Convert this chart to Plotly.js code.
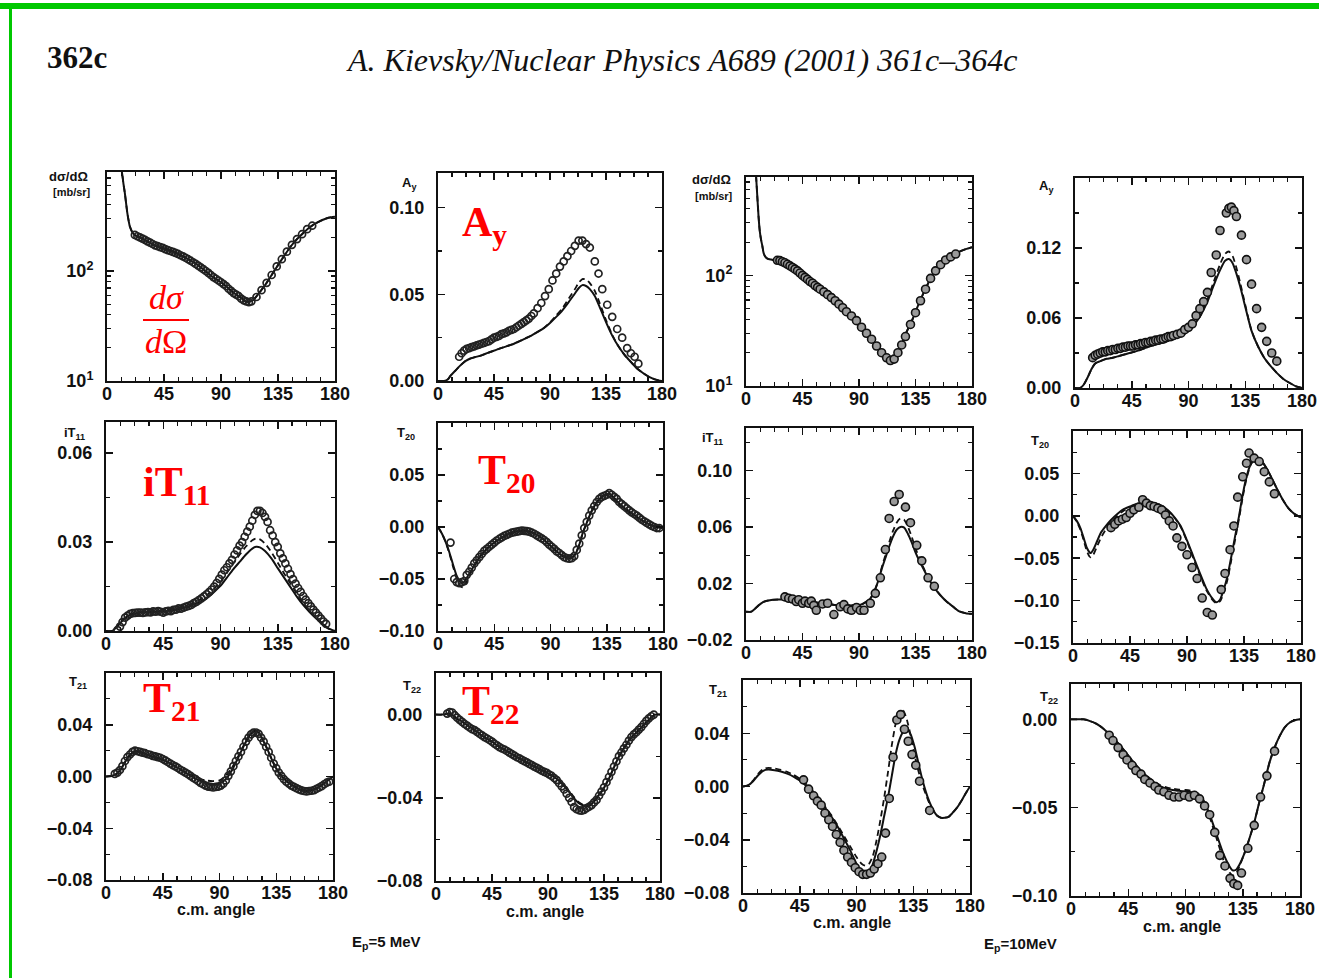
<!DOCTYPE html>
<html><head><meta charset="utf-8">
<script src="https://cdn.plot.ly/plotly-3.0.1.min.js"></script>
<style>html,body{margin:0;padding:0;background:#fff;}#chart{width:1319px;height:978px;}</style>
</head><body><div id="chart"></div>
<script>
// ---------------- DATA ----------------
const xTicks = [0, 45, 90, 135, 180];

// Panel 1: dσ/dΩ, Ep = 5 MeV
const p1CurveAngle = [11,12,13,14,15,16,17,18,20,22,25,30,35,40,45,50,55,60,65,70,75,80,85,90,95,100,105,110,115,120,125,130,135,140,145,150,155,160,165,170,175,180];
const p1Solid = [900,760,620,520,420,340,290,255,225,212,204,191,177,167,160,153,145,136,126,117,106,95,86,79,71,63,58,52.5,54,63,75,92,113,138,167,195,222,250,272,291,305,312];
const p1DataAngle = [22,24,26,28,30,32,34,36,38,40,42,44,46,48,50,52,54,56,58,60,62,64,66,68,70,72,74,76,78,80,82,84,86,88,90,92,94,96,98,100,102,104,106,108,110,112,114,118,122,126,130,134,138,142,146,150,154,158,162];
const p1Data = [213,207,202,197,192,186,181,176,171,168,165,162,158,155,152,149,146,143,139,136,132,128,124,120,116,112,108,104,100,96,92,88,85,82,79,76,73,69,66,63,61,59,56,54,53,52,53,58,67,78,92,110,128,150,173,195,216,240,258];
const p1YTicks = [10, 100];
const p1YTickText = ['10<sup>1</sup>', '10<sup>2</sup>'];

// Panel 2: Ay, 5 MeV
const p2CurveAngle = [0,5,8,10,14,18,22,26,30,35,40,45,50,55,60,65,70,75,80,85,90,95,100,105,110,113,116,119,122,126,130,135,140,145,150,155,160,165,170,175,180];
const p2Solid = [0,0,0.001,0.003,0.006,0.009,0.0115,0.013,0.0138,0.0148,0.0162,0.0175,0.0188,0.020,0.0212,0.0228,0.0245,0.0262,0.0283,0.0305,0.0335,0.037,0.0408,0.0455,0.0505,0.0535,0.0553,0.0548,0.053,0.049,0.0425,0.034,0.0262,0.020,0.015,0.011,0.0072,0.0045,0.0022,0.0008,0];
const p2Dashed = [0,0,0.001,0.003,0.006,0.009,0.0115,0.013,0.0138,0.0148,0.0162,0.0175,0.0188,0.020,0.0212,0.0228,0.0245,0.0262,0.0283,0.0305,0.0338,0.0378,0.042,0.0475,0.053,0.0566,0.0588,0.0585,0.0565,0.052,0.0448,0.0352,0.0266,0.020,0.015,0.011,0.0072,0.0045,0.0022,0.0008,0];
const p2DataAngle = [17,19,21,23,25,27,29,31,33,35,37,39,41,43,45,47,49,51,53,55,57,59,61,63,65,67,69,71,73,75,77,80,83,86,89,92,95,98,101,104,107,110,113,116,119,122,126,129,132,136,140,144,148,152,155,158,161];
const p2Data = [0.014,0.016,0.0175,0.0185,0.019,0.0195,0.020,0.0205,0.021,0.0215,0.022,0.0225,0.023,0.024,0.025,0.0255,0.026,0.027,0.0275,0.028,0.029,0.0295,0.030,0.031,0.032,0.033,0.034,0.035,0.036,0.0375,0.039,0.042,0.045,0.049,0.053,0.058,0.062,0.066,0.069,0.072,0.075,0.078,0.081,0.081,0.079,0.077,0.069,0.062,0.053,0.044,0.037,0.030,0.025,0.019,0.016,0.014,0.010];
const p2YTicks = [0, 0.05, 0.10];

// Panel 3: dσ/dΩ, 10 MeV
const p3CurveAngle = [8,9,10,11,12,13,14,15,17,20,25,30,35,40,45,50,55,60,65,70,75,80,85,90,95,100,105,110,113,116,119,122,125,128,132,136,140,144,148,152,156,160,165,170,175,180];
const p3Solid = [800,520,340,250,210,185,160,150,142,139,136,129,120,110,99,88,80,72,66,60,54,47.5,42,36.6,31,26.3,22.5,19.3,17.5,17.2,18.5,21.3,25.5,31,38.5,50,64,80,99,115,127,140,153,164,173,180];
const p3DataAngle = [25,27,29,31,33,35,37,39,41,43,45,47,49,51,53,55,57,59,62,65,68,71,74,77,80,84,88,92,96,100,104,108,112,115,118,121,124,127,131,135,139,143,147,151,155,159,163,167];
const p3Data = [137,136,133,130,126,122,118,114,110,105,100,96,92,88,85,81,78,75,71,67,63,59,55,51,47,43,39,34,30,26.5,23,20,18,17,17.5,20,23.5,28,36,46,59,75,94,110,125,138,147,156];
const p3YTicks = [10, 100];
const p3YTickText = ['10<sup>1</sup>', '10<sup>2</sup>'];

// Panel 4: Ay, 10 MeV
const p4CurveAngle = [0,4,7,10,13,16,20,25,30,35,40,45,50,55,60,65,70,75,80,85,90,95,100,105,110,115,119,122,125,128,131,134,137,140,145,150,155,160,165,170,175,180];
const p4Solid = [0,0,0.003,0.009,0.016,0.021,0.023,0.025,0.026,0.0275,0.029,0.0305,0.032,0.034,0.036,0.0375,0.039,0.041,0.043,0.045,0.049,0.055,0.063,0.074,0.088,0.101,0.109,0.1105,0.107,0.098,0.087,0.074,0.061,0.049,0.036,0.026,0.019,0.013,0.008,0.0045,0.0015,0];
const p4Dashed = [0,0,0.003,0.009,0.016,0.021,0.023,0.025,0.026,0.0275,0.029,0.0305,0.032,0.034,0.036,0.0375,0.039,0.041,0.043,0.045,0.049,0.055,0.063,0.076,0.091,0.106,0.115,0.117,0.113,0.103,0.090,0.076,0.062,0.049,0.036,0.026,0.019,0.013,0.008,0.0045,0.0015,0];
const p4DataAngle = [14,16,18,20,22,24,26,28,30,32,34,36,38,40,42,44,46,48,50,52,54,56,58,60,62,64,66,68,70,72,74,76,78,81,84,87,90,93,96,99,102,105,108,112,115,120,122,124,126,128,132,136,140,144,148,152,156,160];
const p4Data = [0.026,0.028,0.029,0.030,0.031,0.031,0.032,0.032,0.033,0.033,0.034,0.034,0.035,0.035,0.036,0.036,0.036,0.037,0.037,0.038,0.038,0.039,0.039,0.040,0.040,0.041,0.041,0.042,0.042,0.043,0.044,0.044,0.045,0.046,0.047,0.050,0.052,0.055,0.062,0.068,0.074,0.082,0.099,0.114,0.135,0.150,0.154,0.155,0.152,0.147,0.131,0.110,0.089,0.068,0.052,0.040,0.030,0.023];
const p4YTicks = [0, 0.06, 0.12];

// Panel 5: iT11, 5 MeV
const p5CurveAngle = [0,5,8,11,14,18,22,27,33,40,47,53,60,66,72,79,85,90,95,100,105,110,115,118,121,125,130,135,140,145,150,155,160,165,170,175,180];
const p5Solid = [0,0,0.0012,0.0026,0.0040,0.0052,0.0058,0.0062,0.0064,0.0065,0.0067,0.0071,0.0077,0.0084,0.0095,0.011,0.0132,0.0152,0.018,0.0208,0.0233,0.0258,0.0278,0.0284,0.0282,0.027,0.0245,0.0212,0.018,0.0148,0.0116,0.0088,0.0064,0.0043,0.0024,0.0008,0];
const p5Dashed = [0,0,0.0012,0.0027,0.0042,0.0054,0.0060,0.0064,0.0066,0.0068,0.0071,0.0075,0.0082,0.0090,0.0102,0.012,0.0144,0.0166,0.0196,0.0228,0.0257,0.0285,0.0306,0.0312,0.0309,0.0295,0.0266,0.0230,0.0194,0.0160,0.0126,0.0095,0.0068,0.0045,0.0025,0.0008,0];
const p5DataAngle = [9,11,13,15,17,19,21,23,25,27,29,31,33,35,37,39,41,43,45,47,49,51,53,55,57,59,61,63,65,67,69,71,73,75,77,79,81,83,85,87,89,91,93,95,97,99,101,103,105,107,109,111,113,115,117,119,121,123,125,127,129,131,133,135,137,139,141,143,145,147,149,151,153,155,157,159,161,163,165,167,169,171,173];
const p5Data = [0.0003,0.0015,0.0030,0.0045,0.0052,0.0058,0.0060,0.0061,0.0062,0.0062,0.0061,0.0063,0.0064,0.0063,0.0066,0.0065,0.0067,0.0065,0.0062,0.0066,0.0068,0.0067,0.0071,0.0072,0.0076,0.0075,0.0079,0.0082,0.0085,0.0088,0.0094,0.0098,0.0104,0.0110,0.0117,0.0124,0.0131,0.0140,0.0150,0.0162,0.0176,0.0190,0.0205,0.0215,0.0228,0.0240,0.0258,0.0272,0.0288,0.0300,0.0318,0.0335,0.0352,0.0372,0.0392,0.0405,0.0405,0.0398,0.0385,0.0368,0.0340,0.0322,0.0300,0.0284,0.0262,0.0245,0.0228,0.0210,0.0192,0.0175,0.0160,0.0145,0.0132,0.0118,0.0106,0.0094,0.0083,0.0072,0.0062,0.0052,0.0042,0.0032,0.0024];
const p5YTicks = [0, 0.03, 0.06];

// Panel 6: T20, 5 MeV
const p6CurveAngle = [0,3,6,9,12,15,18,20,22,25,28,32,36,40,45,50,55,60,65,70,75,80,85,90,95,100,104,107,110,113,116,119,122,126,130,134,137,140,145,150,155,160,165,170,175,180];
const p6Solid = [0,-0.006,-0.014,-0.024,-0.036,-0.047,-0.053,-0.0535,-0.051,-0.045,-0.039,-0.031,-0.025,-0.020,-0.015,-0.011,-0.0075,-0.005,-0.0038,-0.0036,-0.0052,-0.008,-0.0125,-0.018,-0.0235,-0.028,-0.030,-0.0295,-0.026,-0.017,-0.005,0.004,0.013,0.022,0.028,0.031,0.032,0.029,0.0225,0.0175,0.013,0.009,0.005,0.002,0,-0.001];
const p6Dashed = [0,-0.006,-0.014,-0.025,-0.038,-0.050,-0.057,-0.058,-0.055,-0.047,-0.040,-0.031,-0.025,-0.020,-0.015,-0.011,-0.0075,-0.005,-0.0038,-0.0036,-0.0052,-0.008,-0.0125,-0.018,-0.0235,-0.028,-0.030,-0.0295,-0.026,-0.017,-0.005,0.004,0.013,0.022,0.028,0.031,0.032,0.029,0.0225,0.0175,0.013,0.009,0.005,0.002,0,-0.001];
const p6DataAngle = [10,13,15,17,19,21,23,25,27,29,31,33,35,37,39,41,43,45,47,49,51,53,55,57,59,61,63,65,67,69,71,73,75,77,79,81,83,85,87,89,91,93,95,97,99,101,103,105,107,109,111,113,115,117,119,121,123,125,127,129,131,133,135,137,139,141,143,145,147,149,151,153,155,157,159,161,163,165,167,169,171,173,175,177];
const p6Data = [-0.015,-0.050,-0.053,-0.054,-0.053,-0.052,-0.046,-0.043,-0.039,-0.035,-0.032,-0.029,-0.026,-0.023,-0.021,-0.019,-0.017,-0.015,-0.013,-0.0115,-0.010,-0.0085,-0.0075,-0.0065,-0.0055,-0.005,-0.0045,-0.004,-0.0035,-0.0037,-0.004,-0.0045,-0.0055,-0.0065,-0.008,-0.0095,-0.011,-0.0125,-0.0145,-0.017,-0.019,-0.021,-0.0235,-0.025,-0.027,-0.029,-0.030,-0.0305,-0.030,-0.028,-0.022,-0.016,-0.008,-0.001,0.005,0.011,0.016,0.020,0.024,0.027,0.029,0.030,0.031,0.0325,0.031,0.029,0.027,0.024,0.022,0.020,0.018,0.016,0.014,0.0125,0.011,0.009,0.007,0.0055,0.004,0.0025,0.001,0.000,-0.001,-0.001];
const p6YTicks = [-0.10, -0.05, 0, 0.05];

// Panel 7: iT11, 10 MeV
const p7CurveAngle = [0,4,7,10,14,19,25,33,40,46,52,59,66,72,79,86,92,96,99,102,105,108,111,114,117,120,123,126,129,132,135,138,141,145,150,155,160,165,170,175,180];
const p7Solid = [0,0,0.002,0.0045,0.007,0.0082,0.0086,0.0086,0.0082,0.0077,0.0070,0.0062,0.0054,0.0047,0.0045,0.0046,0.0052,0.0072,0.0093,0.014,0.021,0.030,0.038,0.046,0.053,0.058,0.060,0.0595,0.055,0.049,0.042,0.036,0.031,0.024,0.017,0.0115,0.007,0.0035,0.0002,-0.001,-0.0015];
const p7Dashed = [0,0,0.002,0.0045,0.007,0.0082,0.0086,0.0086,0.0082,0.0077,0.0070,0.0062,0.0054,0.0047,0.0045,0.0046,0.0052,0.0072,0.0093,0.014,0.021,0.031,0.040,0.049,0.057,0.063,0.066,0.065,0.060,0.053,0.045,0.038,0.032,0.024,0.017,0.0115,0.007,0.0035,0.0002,-0.001,-0.0015];
const p7DataAngle = [31,34,37,40,42,45,47,50,52,54,56,61,65,70,75,78,81,84,88,91,94,99,103,107,111,114,118,122,127,131,136,140,145,150];
const p7Data = [0.0105,0.0095,0.0090,0.0072,0.0085,0.0060,0.0075,0.0060,0.0075,0.0045,0.0010,0.0055,0.0060,-0.0020,0.0035,0.0050,0.0020,0.0010,0.0030,0.0010,0.0010,0.0060,0.013,0.024,0.044,0.066,0.078,0.083,0.074,0.063,0.047,0.036,0.024,0.018];
const p7YTicks = [-0.02, 0.02, 0.06, 0.10];

// Panel 8: T20, 10 MeV
const p8CurveAngle = [0,3,6,9,11,13,14,16,19,22,26,30,35,40,45,50,55,60,65,70,75,80,85,90,95,100,105,110,113,116,119,122,125,128,131,134,137,140,143,146,149,152,155,158,162,166,170,175,180];
const p8Solid = [0,-0.006,-0.015,-0.029,-0.038,-0.043,-0.044,-0.040,-0.030,-0.020,-0.012,-0.005,0.002,0.0078,0.011,0.014,0.0158,0.016,0.0148,0.012,0.0065,-0.0015,-0.012,-0.029,-0.048,-0.067,-0.085,-0.0975,-0.102,-0.099,-0.087,-0.071,-0.048,-0.024,-0.001,0.025,0.046,0.060,0.066,0.067,0.064,0.058,0.050,0.041,0.029,0.018,0.009,0.002,-0.002];
const p8Dashed = [0,-0.007,-0.017,-0.032,-0.042,-0.048,-0.049,-0.046,-0.036,-0.026,-0.016,-0.008,0,0.006,0.0095,0.013,0.015,0.0155,0.0145,0.0115,0.006,-0.002,-0.013,-0.030,-0.050,-0.069,-0.087,-0.099,-0.103,-0.101,-0.091,-0.075,-0.052,-0.028,-0.004,0.022,0.044,0.059,0.067,0.068,0.065,0.058,0.050,0.041,0.029,0.018,0.009,0.002,-0.002];
const p8DataAngle = [30,33,36,39,42,45,48,52,55,58,61,64,67,70,73,76,79,82,86,90,94,98,102,106,110,117,120,124,127,130,134,137,139,143,147,151,155,159];
const p8Data = [-0.014,-0.010,-0.006,-0.004,-0.002,0.003,0.007,0.010,0.019,0.015,0.012,0.011,0.009,0.007,0.001,-0.006,-0.012,-0.026,-0.036,-0.046,-0.061,-0.074,-0.097,-0.114,-0.117,-0.087,-0.068,-0.040,-0.012,0.022,0.046,0.062,0.074,0.068,0.064,0.052,0.040,0.026];
const p8YTicks = [-0.15, -0.10, -0.05, 0, 0.05];

// Panel 9: T21, 5 MeV
const p9CurveAngle = [0,5,9,12,15,18,21,24,27,30,35,40,45,50,55,60,65,70,75,80,85,90,95,100,105,110,114,118,121,124,128,132,136,140,145,150,155,159,163,167,172,176,180];
const p9Solid = [0,0.0006,0.0025,0.006,0.011,0.0155,0.0185,0.0195,0.019,0.0178,0.016,0.0145,0.0128,0.0105,0.0078,0.0048,0.0018,-0.001,-0.0035,-0.0052,-0.006,-0.0055,-0.002,0.005,0.015,0.025,0.032,0.0352,0.034,0.029,0.021,0.012,0.0045,-0.0005,-0.005,-0.008,-0.0105,-0.0112,-0.0105,-0.009,-0.006,-0.003,0];
const p9Dashed = [0,0.0006,0.0025,0.006,0.011,0.0155,0.0185,0.0195,0.019,0.0178,0.016,0.0145,0.0128,0.0105,0.0078,0.005,0.0025,0.0,-0.002,-0.0032,-0.0035,-0.003,0.0005,0.007,0.016,0.0255,0.032,0.0352,0.034,0.029,0.021,0.012,0.0045,-0.0005,-0.005,-0.008,-0.0105,-0.0112,-0.0105,-0.009,-0.006,-0.003,0];
const p9DataAngle = [7,9,11,13,15,17,19,21,23,25,27,29,31,33,35,37,39,41,43,45,47,49,51,53,55,57,59,61,63,65,67,69,71,73,75,77,79,81,83,85,87,89,91,93,95,97,99,101,103,105,107,109,111,113,115,117,119,121,123,125,127,129,131,133,135,137,139,141,143,145,147,149,151,153,155,157,159,161,163,165,167,169,171,173,175,177];
const p9Data = [0.002,0.003,0.005,0.008,0.012,0.015,0.017,0.019,0.020,0.0195,0.019,0.0185,0.018,0.0172,0.0168,0.016,0.0155,0.015,0.0145,0.0135,0.0125,0.0112,0.010,0.0088,0.0078,0.0066,0.0052,0.0042,0.003,0.0018,0.0005,-0.001,-0.002,-0.0035,-0.005,-0.006,-0.007,-0.0078,-0.008,-0.0085,-0.008,-0.0078,-0.007,-0.0055,-0.003,0.0005,0.004,0.008,0.012,0.0155,0.019,0.023,0.027,0.030,0.0325,0.034,0.034,0.033,0.030,0.027,0.023,0.019,0.0145,0.010,0.0065,0.003,0.0005,-0.002,-0.004,-0.0055,-0.007,-0.008,-0.009,-0.010,-0.0108,-0.0112,-0.0115,-0.0112,-0.011,-0.0105,-0.0095,-0.0085,-0.0075,-0.006,-0.0048,-0.004];
const p9YTicks = [-0.08, -0.04, 0, 0.04];

// Panel 10: T22, 5 MeV
const p10CurveAngle = [0,5,8,11,14,17,20,25,30,35,40,45,50,55,60,65,70,75,80,85,90,95,100,105,110,114,118,122,125,128,131,134,137,140,144,148,152,156,160,164,168,172,176,180];
const p10Solid = [0,0,0.0003,0.0005,-0.0005,-0.002,-0.003,-0.005,-0.007,-0.0093,-0.0113,-0.013,-0.0152,-0.0168,-0.0187,-0.0204,-0.022,-0.0237,-0.0252,-0.0266,-0.0282,-0.030,-0.0325,-0.0357,-0.0395,-0.0422,-0.0436,-0.0441,-0.043,-0.041,-0.0385,-0.0362,-0.033,-0.0295,-0.024,-0.019,-0.0153,-0.0117,-0.0092,-0.0068,-0.0043,-0.0019,0,0];
const p10Dashed = [0,0,0.0003,0.0005,-0.0005,-0.002,-0.003,-0.005,-0.007,-0.0093,-0.0113,-0.013,-0.0152,-0.0168,-0.0187,-0.0204,-0.022,-0.0237,-0.0252,-0.0266,-0.0281,-0.0298,-0.0321,-0.0352,-0.039,-0.0418,-0.0433,-0.0439,-0.043,-0.041,-0.0385,-0.0362,-0.033,-0.0295,-0.024,-0.019,-0.0153,-0.0117,-0.0092,-0.0068,-0.0043,-0.0019,0,0];
const p10DataAngle = [9,11,13,15,17,19,21,23,25,27,29,31,33,35,37,39,41,43,45,47,49,51,53,55,57,59,61,63,65,67,69,71,73,75,77,79,81,83,85,87,89,91,93,95,97,99,101,103,105,107,109,111,113,115,117,119,121,123,125,127,129,131,133,135,137,139,141,143,145,147,149,151,153,155,157,159,161,163,165,167,169,171,173,175];
const p10Data = [0.0005,0.0012,0.0010,-0.0003,-0.0015,-0.0025,-0.0035,-0.0045,-0.0053,-0.0062,-0.007,-0.0075,-0.0083,-0.0092,-0.010,-0.0108,-0.0115,-0.0122,-0.013,-0.014,-0.0148,-0.0156,-0.0163,-0.0168,-0.0175,-0.0183,-0.019,-0.0197,-0.0205,-0.021,-0.0218,-0.0224,-0.023,-0.0237,-0.0243,-0.025,-0.0256,-0.0262,-0.027,-0.0275,-0.028,-0.0288,-0.0295,-0.0305,-0.0315,-0.033,-0.0345,-0.036,-0.038,-0.040,-0.042,-0.0445,-0.0455,-0.046,-0.0462,-0.0458,-0.045,-0.0443,-0.0435,-0.0422,-0.041,-0.039,-0.037,-0.035,-0.0325,-0.030,-0.0275,-0.025,-0.0225,-0.020,-0.0182,-0.0162,-0.0145,-0.0125,-0.0108,-0.0095,-0.0085,-0.0072,-0.006,-0.0045,-0.003,-0.0018,-0.0008,0];
const p10YTicks = [-0.08, -0.04, 0];

// Panel 11: T21, 10 MeV
const p11CurveAngle = [0,4,8,12,16,20,25,30,35,40,45,50,55,60,65,70,75,80,85,90,94,97,100,103,106,109,112,115,118,121,124,127,130,133,136,139,142,145,148,151,154,157,160,163,166,170,174,177,180];
const p11Solid = [0,0.0008,0.004,0.0085,0.0118,0.0127,0.0122,0.0112,0.0097,0.0075,0.0045,0.0005,-0.0045,-0.0095,-0.016,-0.0225,-0.030,-0.039,-0.048,-0.058,-0.065,-0.067,-0.065,-0.058,-0.048,-0.036,-0.022,-0.008,0.008,0.024,0.035,0.041,0.043,0.039,0.030,0.018,0.006,-0.004,-0.012,-0.018,-0.022,-0.0235,-0.0235,-0.0228,-0.020,-0.0155,-0.0095,-0.0045,0];
const p11Dashed = [0,0.001,0.0045,0.0095,0.0132,0.014,0.0135,0.0125,0.011,0.0088,0.0058,0.002,-0.003,-0.0085,-0.015,-0.0215,-0.029,-0.037,-0.045,-0.053,-0.058,-0.0595,-0.058,-0.052,-0.040,-0.025,-0.008,0.011,0.031,0.047,0.056,0.057,0.050,0.038,0.024,0.012,0.002,-0.006,-0.013,-0.018,-0.022,-0.0235,-0.0235,-0.0228,-0.020,-0.0155,-0.0095,-0.0045,0];
const p11DataAngle = [48,52,56,59,62,65,68,71,74,77,80,83,86,89,92,95,98,101,104,107,110,113,116,119,122,125,128,131,134,137,140,148];
const p11Data = [0.005,-0.002,-0.007,-0.011,-0.014,-0.020,-0.025,-0.030,-0.036,-0.042,-0.048,-0.053,-0.057,-0.061,-0.064,-0.066,-0.066,-0.065,-0.062,-0.058,-0.053,-0.035,-0.009,0.022,0.050,0.054,0.043,0.034,0.024,0.016,0.004,-0.018];
const p11YTicks = [-0.08, -0.04, 0, 0.04];

// Panel 12: T22, 10 MeV
const p12CurveAngle = [0,5,10,15,20,25,30,35,40,45,50,55,60,65,70,75,80,85,90,95,100,104,108,112,116,120,124,127,130,133,136,140,144,148,152,156,160,164,168,172,176,180];
const p12Solid = [0,0,0,-0.001,-0.0025,-0.005,-0.0083,-0.012,-0.016,-0.0205,-0.025,-0.029,-0.0325,-0.0355,-0.0378,-0.0392,-0.040,-0.0405,-0.041,-0.0412,-0.0425,-0.0455,-0.052,-0.060,-0.0685,-0.0765,-0.0825,-0.0855,-0.085,-0.0815,-0.0765,-0.068,-0.0585,-0.047,-0.036,-0.0245,-0.016,-0.0095,-0.0045,-0.0018,-0.0005,0];
const p12Dashed = [0,0,0,-0.001,-0.0025,-0.005,-0.0083,-0.012,-0.016,-0.0205,-0.025,-0.029,-0.0322,-0.035,-0.0372,-0.0385,-0.0393,-0.0398,-0.040,-0.0405,-0.042,-0.046,-0.053,-0.062,-0.071,-0.080,-0.086,-0.0885,-0.087,-0.082,-0.0765,-0.068,-0.0585,-0.047,-0.036,-0.0245,-0.016,-0.0095,-0.0045,-0.0018,-0.0005,0];
const p12DataAngle = [30,33,37,41,44,48,51,55,58,62,66,69,73,77,81,85,89,93,97,101,105,109,113,117,121,125,128,131,134,139,144,149,154,160];
const p12Data = [-0.009,-0.012,-0.016,-0.020,-0.023,-0.026,-0.029,-0.031,-0.034,-0.036,-0.038,-0.040,-0.041,-0.043,-0.044,-0.044,-0.043,-0.044,-0.043,-0.045,-0.049,-0.054,-0.064,-0.077,-0.083,-0.090,-0.093,-0.094,-0.087,-0.073,-0.060,-0.044,-0.032,-0.018];
const p12YTicks = [-0.10, -0.05, 0];

const axisLabels = ['dσ/dΩ', 'A<sub>y</sub>', 'dσ/dΩ', 'A<sub>y</sub>', 'iT<sub>11</sub>', 'T<sub>20</sub>', 'iT<sub>11</sub>', 'T<sub>20</sub>', 'T<sub>21</sub>', 'T<sub>22</sub>', 'T<sub>21</sub>', 'T<sub>22</sub>'];

// ---------------- LAYOUT / DRAWING ----------------
const W = 1319, H = 978;
const INK = '#111';
const panels = [
  {box:[107,335,172,381], type:'log', range:[1,2.9], ticks:p1YTicks, text:p1YTickText, minor:'D1', ca:p1CurveAngle, s:p1Solid, d:p1Solid, da:p1DataAngle, dv:p1Data, big:false},
  {box:[438,662,173,381], range:[0,0.12], ticks:p2YTicks, minor:0.025, ca:p2CurveAngle, s:p2Solid, d:p2Dashed, da:p2DataAngle, dv:p2Data, big:false},
  {box:[746,972,177,386], type:'log', range:[1,2.89], ticks:p3YTicks, text:p3YTickText, minor:'D1', ca:p3CurveAngle, s:p3Solid, d:p3Solid, da:p3DataAngle, dv:p3Data, big:true},
  {box:[1075,1302,178,388], range:[0,0.18], ticks:p4YTicks, minor:0.03, ca:p4CurveAngle, s:p4Solid, d:p4Dashed, da:p4DataAngle, dv:p4Data, big:true},
  {box:[106,335,422,631], range:[0,0.0705], ticks:p5YTicks, minor:0.015, ca:p5CurveAngle, s:p5Solid, d:p5Dashed, da:p5DataAngle, dv:p5Data, big:false},
  {box:[438,663,423,631], range:[-0.1,0.1], ticks:p6YTicks, minor:0.025, ca:p6CurveAngle, s:p6Solid, d:p6Dashed, da:p6DataAngle, dv:p6Data, big:false},
  {box:[746,972,428,640], range:[-0.02,0.13], ticks:p7YTicks, minor:0.02, m0:-0.02, ca:p7CurveAngle, s:p7Solid, d:p7Dashed, da:p7DataAngle, dv:p7Data, big:true},
  {box:[1073,1301,431,643], range:[-0.15,0.1], ticks:p8YTicks, minor:0.025, ca:p8CurveAngle, s:p8Solid, d:p8Dashed, da:p8DataAngle, dv:p8Data, big:true},
  {box:[106,333,673,880], range:[-0.08,0.08], ticks:p9YTicks, minor:0.02, ca:p9CurveAngle, s:p9Solid, d:p9Dashed, da:p9DataAngle, dv:p9Data, big:false},
  {box:[436,660,673,881], range:[-0.08,0.02], ticks:p10YTicks, minor:0.02, ca:p10CurveAngle, s:p10Solid, d:p10Dashed, da:p10DataAngle, dv:p10Data, big:false},
  {box:[743,970,680,893], range:[-0.08,0.08], ticks:p11YTicks, minor:0.02, ca:p11CurveAngle, s:p11Solid, d:p11Dashed, da:p11DataAngle, dv:p11Data, big:true},
  {box:[1071,1300,684,896], range:[-0.10,0.02], ticks:p12YTicks, minor:0.025, ca:p12CurveAngle, s:p12Solid, d:p12Dashed, da:p12DataAngle, dv:p12Data, big:true}
];
const labelPos = [[68,176],[409,183],[711,179],[1046,187],[74,434],[406,433],[712,438],[1040,441],[78,682],[412,686],[718,690],[1049,697]];

const tickFont = {family:'Liberation Sans, Arial, sans-serif', size:18, weight:'bold', color:INK};
const traces = [];
const layout = {
  width: W, height: H, autosize:false,
  margin:{l:0,r:0,t:0,b:0,pad:0},
  paper_bgcolor:'#ffffff', plot_bgcolor:'rgba(0,0,0,0)',
  showlegend:false, annotations:[], shapes:[]
};
const px = v => v / W;
const py = v => 1 - v / H;

panels.forEach((p, i) => {
  const n = i + 1, sfx = n === 1 ? '' : String(n);
  const xa = 'x' + sfx, ya = 'y' + sfx;
  layout['xaxis' + sfx] = {
    domain:[px(p.box[0]), px(p.box[1])], anchor: ya, range:[0,180],
    tickmode:'array', tickvals:xTicks, ticks:'inside', ticklen:7, tickwidth:1.5, tickcolor:INK,
    mirror:'allticks', showline:true, linecolor:INK, linewidth:2, showgrid:false, zeroline:false,
    tickfont:tickFont, ticklabelstandoff:-5, fixedrange:true,
    minor:{tickmode:'linear', tick0:0, dtick:11.25, ticks:'inside', ticklen:4, tickwidth:1.2, tickcolor:INK, showgrid:false}
  };
  const yax = {
    domain:[py(p.box[3]), py(p.box[2])], anchor: xa, range:p.range,
    tickmode:'array', tickvals:p.ticks, ticks:'inside', ticklen:7, tickwidth:1.5, tickcolor:INK,
    mirror:'allticks', showline:true, linecolor:INK, linewidth:2, showgrid:false, zeroline:false,
    tickfont:tickFont, ticklabelstandoff:8, fixedrange:true,
    minor:{tickmode:'linear', tick0:(p.m0 !== undefined ? p.m0 : 0), dtick:p.minor, ticks:'inside', ticklen:4, tickwidth:1.2, tickcolor:INK, showgrid:false}
  };
  if (p.type === 'log') { yax.type = 'log'; yax.ticktext = p.text; yax.minor.tick0 = undefined; }
  else { yax.tickformat = '.2f'; }
  layout['yaxis' + sfx] = yax;

  traces.push({x:p.ca, y:p.d, xaxis:xa, yaxis:ya, type:'scatter', mode:'lines', line:{color:INK, width:1.8, dash:'6px,4px', shape:'spline', smoothing:0.6}, hoverinfo:'skip'});
  traces.push({x:p.ca, y:p.s, xaxis:xa, yaxis:ya, type:'scatter', mode:'lines', line:{color:INK, width:2, shape:'spline', smoothing:0.6}, hoverinfo:'skip'});
  traces.push({x:p.da, y:p.dv, xaxis:xa, yaxis:ya, type:'scatter', mode:'markers', cliponaxis:true,
    marker: p.big ? {symbol:'circle', size:8, color:'#9a9a9a', line:{color:INK, width:1.6}}
                  : {symbol:'circle-open', size:7, color:'#222', line:{color:'#222', width:1.7}}, hoverinfo:'skip'});

  layout.annotations.push({text:axisLabels[i], x:px(labelPos[i][0]), y:py(labelPos[i][1]), xref:'paper', yref:'paper', showarrow:false, xanchor:'center', yanchor:'middle', font:{family:'Liberation Sans, Arial, sans-serif', size:13, weight:'bold', color:INK}});
});

const ann = (text, x, y, font, xa='center', yan='middle') => layout.annotations.push({text, x:px(x), y:py(y), xref:'paper', yref:'paper', showarrow:false, xanchor:xa, yanchor:yan, font});
const small = {family:'Liberation Sans, Arial, sans-serif', size:11, weight:'bold', color:INK};
ann('[mb/sr]', 72, 192, small);
ann('[mb/sr]', 714, 196, small);
const axTitle = {family:'Liberation Sans, Arial, sans-serif', size:16, weight:'bold', color:INK};
ann('c.m. angle', 216, 909, axTitle);
ann('c.m. angle', 545, 911, axTitle);
ann('c.m. angle', 852, 922, axTitle);
ann('c.m. angle', 1182, 926, axTitle);
const epFont = {family:'Liberation Sans, Arial, sans-serif', size:15, weight:'bold', color:INK};
ann('E<sub>p</sub>=5 MeV', 386, 942, epFont);
ann('E<sub>p</sub>=10MeV', 1020, 944, epFont);

// header
ann('<b>362c</b>', 45, 57, {family:'Liberation Serif, Times New Roman, serif', size:31, color:INK}, 'left');
ann('<i>A. Kievsky/Nuclear Physics A689 (2001) 361c–364c</i>', 681, 60, {family:'Liberation Serif, Times New Roman, serif', size:32, color:INK});

// red overlay labels
const red = {family:'Liberation Serif, Times New Roman, serif', size:42, weight:'bold', color:'#ff0000'};
ann('A<sub>y</sub>', 460, 225, red, 'left');
ann('iT<sub>11</sub>', 141, 485, red, 'left');
ann('T<sub>20</sub>', 476, 473, red, 'left');
ann('T<sub>21</sub>', 141, 701, red, 'left');
ann('T<sub>22</sub>', 460, 704, red, 'left');
const redIt = {family:'Liberation Serif, Times New Roman, serif', size:34, color:'#ff0000'};
ann('<i>dσ</i>', 166, 297, redIt);
ann('<i>d</i>Ω', 166, 341, redIt);
layout.shapes.push({type:'line', xref:'paper', yref:'paper', x0:px(143), x1:px(189), y0:py(320), y1:py(320), line:{color:'#ff0000', width:2}});

// green page border
layout.shapes.push({type:'rect', xref:'paper', yref:'paper', x0:0, x1:1, y0:py(9), y1:py(3), fillcolor:'#00c800', line:{width:0}, layer:'above'});
layout.shapes.push({type:'rect', xref:'paper', yref:'paper', x0:px(9), x1:px(12), y0:0, y1:py(3), fillcolor:'#00c800', line:{width:0}, layer:'above'});

Plotly.newPlot('chart', traces, layout, {staticPlot:true, displayModeBar:false});
</script></body></html>
